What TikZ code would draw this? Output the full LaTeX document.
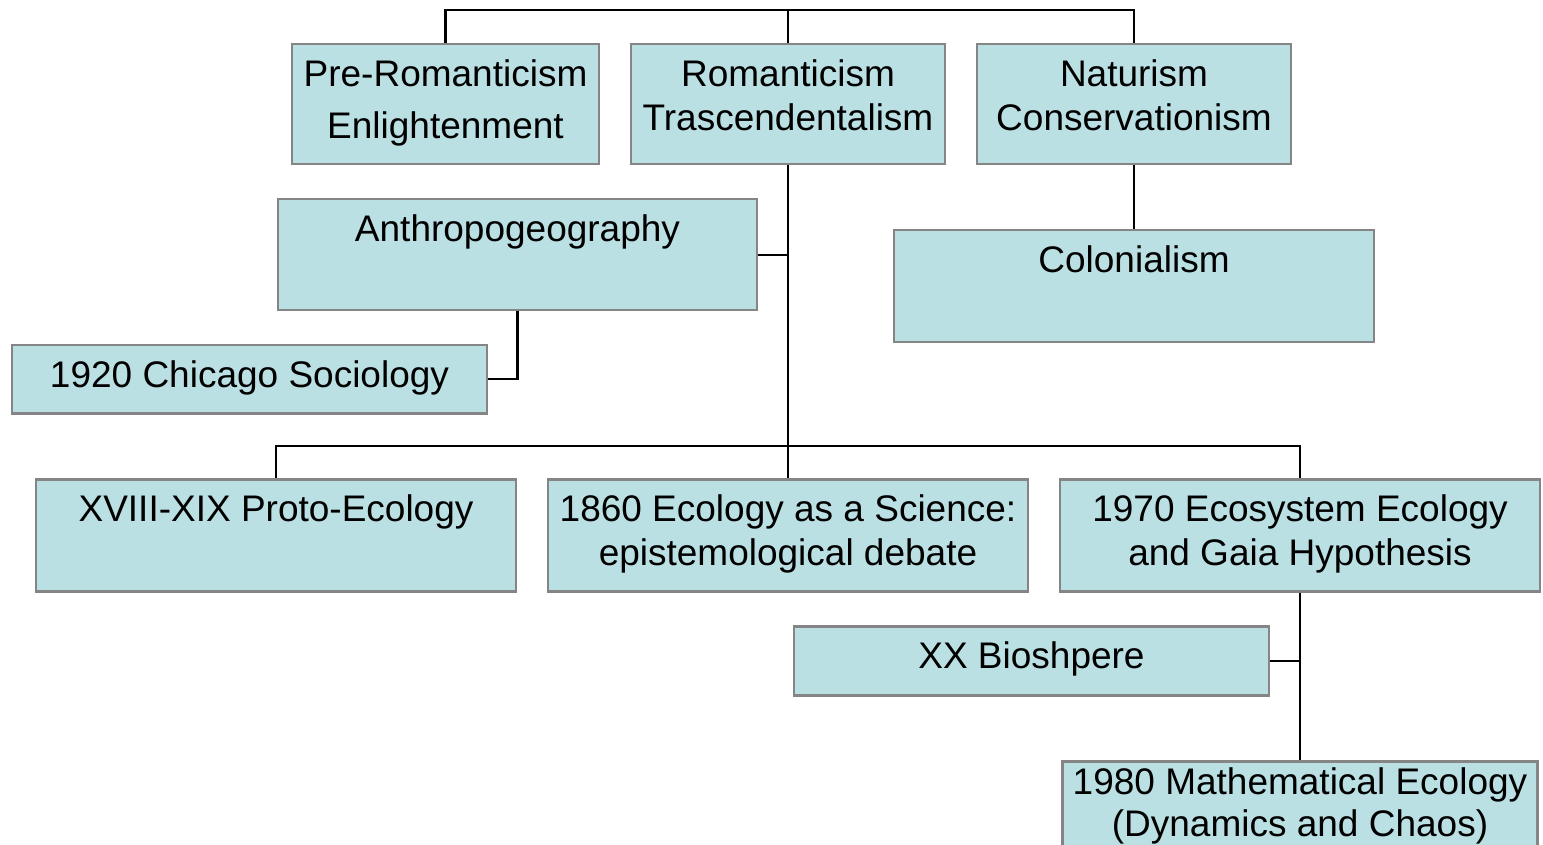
\documentclass[tikz,border=0pt]{standalone}
\usepackage{fontspec}
\setmainfont{Liberation Sans}
\usetikzlibrary{positioning,calc}
\definecolor{boxfill}{HTML}{BAE0E3}
\definecolor{boxline}{HTML}{858585}
\begin{document}
\begin{tikzpicture}[
  x=0.5pt, y=-0.5pt,
  box/.style={draw=boxline, fill=boxfill, line width=1.25pt, inner sep=0pt,
    anchor=north, align=center, text height=21pt,
    font=\fontsize{18.5}{22}\selectfont},
  link/.style={draw=black, line width=1.2pt},
]
\useasboundingbox (0,0) rectangle (1543,845);

% top row
\node[box, minimum width=153.5pt, text height=47pt, text depth=13pt, font=\fontsize{18.5}{26}\selectfont] (pre) at (445.5,43) {Pre-Romanticism\\Enlightenment};
\node[box, minimum width=157pt, text height=43pt, text depth=17pt] (rom) at (788,43) {Romanticism\\Trascendentalism};
\node[box, minimum width=157pt, text height=43pt, text depth=17pt] (nat) at (1134,43) {Naturism\\Conservationism};

% second level
\node[box, minimum width=239.5pt, text depth=34.5pt] (anth) at (517.5,198) {Anthropogeography};
\node[box, minimum width=237.5pt, text depth=13pt] (chic) at (249.5,344) {1920 Chicago Sociology};
\node[box, minimum width=240pt, text depth=35pt] (colo) at (1134,229) {Colonialism};

% ecology row
\node[box, minimum width=240pt, text depth=35pt] (proto) at (276,478) {XVIII-XIX Proto-Ecology};
\node[box, minimum width=240pt, text height=43pt, text depth=13pt] (sci) at (788,478) {1860 Ecology as a Science:\\epistemological debate};
\node[box, minimum width=240pt, text height=43pt, text depth=13pt] (gaia) at (1300,478) {1970 Ecosystem Ecology\\and Gaia Hypothesis};

% bottom
\node[box, minimum width=237.5pt, text depth=13.5pt] (bio) at (1031.5,625) {XX Bioshpere};
\node[box, minimum width=237.5pt, text height=37.5pt, text depth=18.5pt, font=\fontsize{18.5}{21}\selectfont] (math) at (1300,760) {1980 Mathematical Ecology\\(Dynamics and Chaos)};

% connectors
\coordinate (topbus) at (788,10);
\coordinate (midbus) at (788,446);
\draw[link] (pre.north) |- (topbus) -| (nat.north);
\draw[link] (rom.north) -- (topbus);
\draw[link] (rom.south) -- (midbus);
\draw[link] (anth.east) -- (anth.east -| rom.south);
\draw[link] (anth.south) |- (chic.east);
\draw[link] (nat.south) -- (colo.north);
\draw[link] (proto.north) |- (midbus) -| (gaia.north);
\draw[link] (midbus) -- (sci.north);
\draw[link] (gaia.south) -- (math.north);
\draw[link] (bio.east) -- (bio.east -| gaia.south);
\end{tikzpicture}
\end{document}
